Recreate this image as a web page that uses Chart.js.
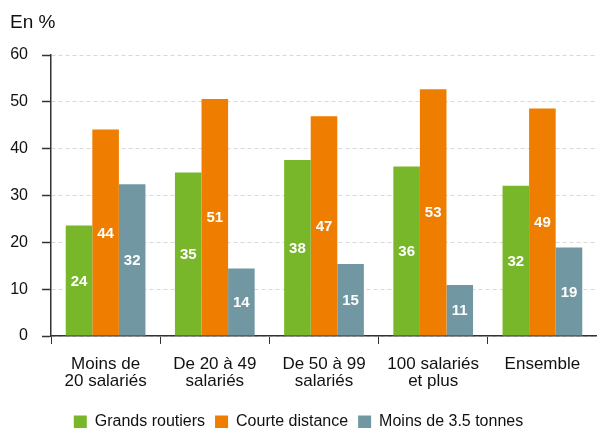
<!DOCTYPE html>
<html>
<head>
<meta charset="utf-8">
<script src="https://cdn.jsdelivr.net/npm/chart.js@4/dist/chart.umd.min.js"></script>
<style>
  html, body { margin: 0; padding: 0; background: #fff; overflow: hidden; }
  #wrap { position: relative; width: 597px; height: 428px; overflow: hidden; }
  #unit { position: absolute; left: 10px; top: 11px; font: 19px "Liberation Sans", Arial, sans-serif; color: #111; }
  canvas { position: absolute; left: 0; top: 0; }
</style>
</head>
<body>
<div id="wrap">
  <canvas id="chart" width="597" height="440"></canvas>
  <div id="unit">En %</div>
</div>
<script>
const categories = [["Moins de", "20 salariés"], ["De 20 à 49", "salariés"], ["De 50 à 99", "salariés"], ["100 salariés", "et plus"], ["Ensemble"]];
const seriesNames = ["Grands routiers", "Courte distance", "Moins de 3.5 tonnes"];
const grandsRoutiers = [23.6, 34.9, 37.6, 36.2, 32.1];
const courteDistance = [44.1, 50.6, 46.9, 52.7, 48.6];
const moins35Tonnes = [32.4, 14.4, 15.4, 10.9, 18.9];
const yTicks = [0, 10, 20, 30, 40, 50, 60];

const colors = ["#78b62a", "#ee7d00", "#7198a2"];
const FONT = "'Liberation Sans', Arial, sans-serif";

// white value labels centered inside each bar
const barLabels = {
  id: "barLabels",
  afterDatasetsDraw(chart) {
    const ctx = chart.ctx;
    ctx.save();
    ctx.fillStyle = "#fff";
    ctx.font = "bold 15px " + FONT;
    ctx.textAlign = "center";
    ctx.textBaseline = "middle";
    chart.data.datasets.forEach((ds, i) => {
      chart.getDatasetMeta(i).data.forEach((bar, j) => {
        ctx.fillText(Math.round(ds.data[j]), bar.x, (bar.y + bar.base) / 2 + 1);
      });
    });
    ctx.restore();
  }
};

new Chart(document.getElementById("chart"), {
  type: "bar",
  data: {
    labels: categories,
    datasets: [
      { label: seriesNames[0], data: grandsRoutiers, backgroundColor: colors[0] },
      { label: seriesNames[1], data: courteDistance, backgroundColor: colors[1] },
      { label: seriesNames[2], data: moins35Tonnes, backgroundColor: colors[2] }
    ]
  },
  options: {
    responsive: false,
    animation: false,
    layout: { padding: { top: 55, left: 0, right: 0, bottom: 0 } },
    datasets: { bar: { categoryPercentage: 0.73, barPercentage: 1.0 } },
    scales: {
      x: {
        afterFit: s => { s.height = 68; },
        border: { color: "#333", width: 1.5 },
        grid: { drawOnChartArea: false, tickLength: 8, tickColor: "#333", offset: true },
        ticks: { color: "#111", font: { family: FONT, size: 17, lineHeight: 1.05 }, padding: 11, maxRotation: 0 }
      },
      y: {
        min: 0, max: 60,
        afterFit: s => { s.width = 51; },
        afterBuildTicks: s => { s.ticks = yTicks.map(v => ({ value: v })); },
        border: { color: "#333", width: 1.5, dash: [4, 3] },
        grid: { color: "#d8d8d8", tickColor: "#333", tickLength: 9, tickBorderDash: [], tickWidth: 1.5 },
        ticks: { color: "#111", font: { family: FONT, size: 16 }, padding: 14 }
      }
    },
    plugins: {
      legend: {
        position: "bottom",
        labels: {
          color: "#111",
          font: { family: FONT, size: 16 },
          boxWidth: 13, boxHeight: 13, padding: 10
        }
      },
      tooltip: { enabled: false }
    }
  },
  plugins: [barLabels]
});
</script>
</body>
</html>
